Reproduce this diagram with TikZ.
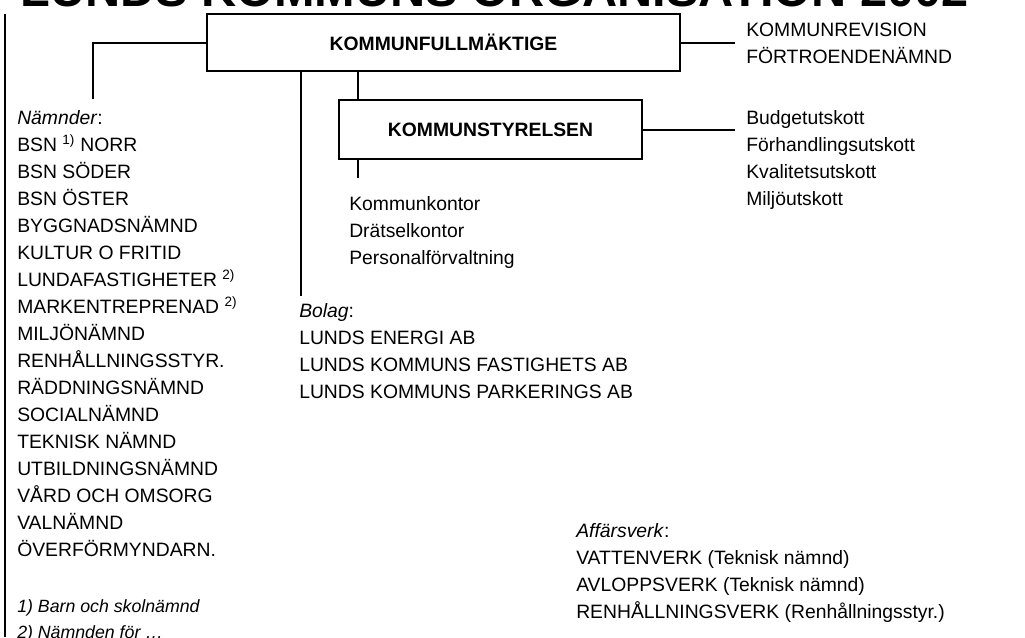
\documentclass[tikz,border=0pt]{standalone}
\usepackage{fontspec}
\setmainfont{Liberation Sans}
\usepackage{tikz}
\usetikzlibrary{positioning,calc}
\tikzset{
  orgbox/.style={rectangle, draw=black, line width=1.5pt, inner sep=0pt,
                 font=\fontsize{14.5}{20.25}\selectfont\bfseries, text centered},
  lista/.style={anchor=north west, align=left, inner sep=0pt,
                font=\fontsize{14.5}{20.25}\selectfont},
  fotnot/.style={lista, font=\fontsize{13.3}{19.5}\selectfont\itshape},
  forbind/.style={draw, line width=1.5pt}
}

\begin{document}
\begin{tikzpicture}[x=0.75pt,y=-0.75pt]
\useasboundingbox (0,0) rectangle (1025,637);
% rubriken, avskuren i overkanten
\begin{scope}
\clip (0,0) rectangle (1025,637);
\node[anchor=base west, inner sep=0pt, font=\fontsize{36.5}{40}\selectfont\bfseries] (rubrik) at (20,6) {LUNDS KOMMUNS ORGANISATION 2002};
\end{scope}
\draw[forbind] (5,14) -- (5,637);

\node[orgbox, minimum width=354.75pt, minimum height=42.75pt] (kf) at (443.5,42.5) {KOMMUNFULLMÄKTIGE};
\node[orgbox, minimum width=227.25pt, minimum height=44.25pt] (ks) at (490.5,129.5) {KOMMUNSTYRELSEN};

\node[lista] (rev) at (746,17) {\strut KOMMUNREVISION\\FÖRTROENDENÄMND};
\node[lista] (utsk) at (746,105) {\strut Budgetutskott\\Förhandlingsutskott\\Kvalitetsutskott\\Miljöutskott};
\node[lista] (kontor) at (349,191) {\strut Kommunkontor\\Drätselkontor\\Personalförvaltning};
\node[lista] (namnder) at (17,105) {\strut\textit{Nämnder}:\\
  BSN \textsuperscript{1)} NORR\\BSN SÖDER\\BSN ÖSTER\\BYGGNADSNÄMND\\KULTUR O FRITID\\
  LUNDAFASTIGHETER \textsuperscript{2)}\\MARKENTREPRENAD \textsuperscript{2)}\\MILJÖNÄMND\\
  RENHÅLLNINGSSTYR.\\RÄDDNINGSNÄMND\\SOCIALNÄMND\\TEKNISK NÄMND\\UTBILDNINGSNÄMND\\
  VÅRD OCH OMSORG\\VALNÄMND\\ÖVERFÖRMYNDARN.};
\node[fotnot] (fotnoter) at (17,594) {\strut 1) Barn och skolnämnd\\2) Nämnden för …};
\node[lista] (bolag) at (299,298) {\strut\textit{Bolag}:\\LUNDS ENERGI AB\\LUNDS KOMMUNS FASTIGHETS AB\\LUNDS KOMMUNS PARKERINGS AB};
\node[lista] (verk) at (576,518) {\strut\textit{Affärsverk}:\\VATTENVERK (Teknisk nämnd)\\AVLOPPSVERK (Teknisk nämnd)\\RENHÅLLNINGSVERK (Renhållningsstyr.)};

% linjer
\coordinate (nmnd) at (93,99);
\draw[forbind] (kf.west) -| (nmnd);
\draw[forbind, shorten >=8.25pt] (kf.east) -- (kf.east -| rev.west);
\draw[forbind, shorten >=8.25pt] (ks.east) -- (ks.east -| utsk.west);
\coordinate (ksa) at (358,0);
\draw[forbind] (ksa |- kf.south) -- (ksa |- ks.north);
\draw[forbind] (ksa |- ks.south) -- ++(0,18);
\coordinate (bol) at (301,296);
\draw[forbind] (bol |- kf.south) -- (bol);
\end{tikzpicture}
\end{document}
